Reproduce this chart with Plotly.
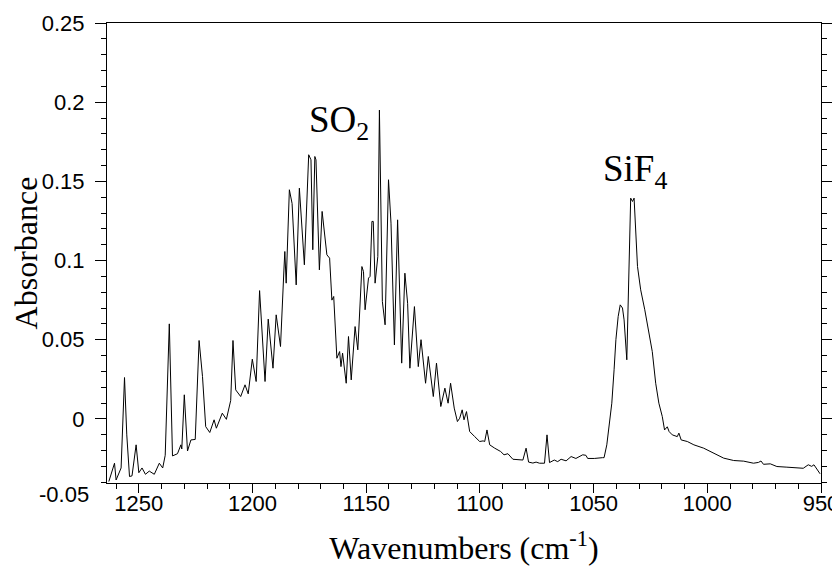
import plotly.graph_objects as go

# Spectrum (wavenumber in cm-1, absorbance)
wavenumber = [
    1263.2, 1260.7, 1260.0, 1257.8, 1256.3, 1255.3, 1254.1, 1253.0, 1251.2, 1250.0,
    1248.6, 1247.1, 1245.4, 1243.2, 1241.0, 1239.5, 1238.4, 1236.6, 1235.2, 1233.0,
    1231.5, 1231.1, 1230.0, 1228.6, 1227.1, 1225.2, 1223.5, 1222.0, 1220.6, 1218.8,
    1216.9, 1215.9, 1213.3, 1211.5, 1209.6, 1208.6, 1207.4, 1205.2, 1203.3, 1201.9,
    1200.1, 1198.4, 1196.9, 1194.5, 1193.1, 1191.0, 1189.6, 1187.7, 1186.2, 1185.8,
    1185.2, 1183.8, 1182.6, 1180.8, 1179.4, 1177.2, 1175.3, 1174.3, 1173.5, 1172.6,
    1172.1, 1170.6, 1169.4, 1168.0, 1167.3, 1166.1, 1165.1, 1164.3, 1162.9, 1161.7,
    1161.1, 1160.4, 1158.8, 1157.8, 1156.6, 1154.9, 1153.7, 1151.9, 1151.2, 1150.5,
    1149.0, 1148.3, 1147.5, 1146.9, 1146.1, 1144.9, 1144.2, 1142.9, 1141.7, 1140.2,
    1139.1, 1137.6, 1136.2, 1134.4, 1133.0, 1131.8, 1130.8, 1128.8, 1127.1, 1125.9,
    1123.9, 1122.7, 1120.5, 1119.1, 1117.2, 1115.4, 1114.0, 1112.9, 1111.3, 1109.9,
    1108.9, 1107.8, 1107.0, 1105.9, 1104.5, 1102.3, 1100.1, 1098.6, 1097.9, 1096.9,
    1095.7, 1093.5, 1090.9, 1089.4, 1087.7, 1085.5, 1081.1, 1079.7, 1078.6, 1076.7,
    1075.3, 1073.8, 1071.6, 1070.5, 1069.4, 1067.3, 1065.8, 1064.3, 1062.1, 1059.9,
    1057.8, 1054.8, 1053.4, 1052.6, 1049.7, 1046.1, 1045.4, 1044.2, 1043.2, 1042.0,
    1041.0, 1040.2, 1039.2, 1038.3, 1037.3, 1036.6, 1035.4, 1034.4, 1033.7, 1032.9,
    1032.2, 1030.7, 1029.3, 1027.5, 1025.6, 1024.2, 1022.7, 1021.3, 1019.8, 1018.8,
    1017.6, 1016.8, 1015.4, 1013.2, 1012.5, 1011.5, 1008.8, 1005.9, 1001.6, 997.2,
    992.8, 988.4, 984.0, 979.7, 977.5, 976.4, 975.3, 972.3, 969.4, 965.0,
    960.6, 957.8, 955.6, 954.1, 953.1, 951.9, 950.4,
]
absorbance = [
    -0.0396, -0.0280, -0.0386, -0.0310, 0.0261, -0.0101, -0.0364, -0.0360, -0.0164, -0.0340,
    -0.0310, -0.0350, -0.0330, -0.0350, -0.0280, -0.0310, -0.0230, 0.0600, -0.0234, -0.0220,
    -0.0164, -0.0190, 0.0152, -0.0203, -0.0133, -0.0130, 0.0495, 0.0267, -0.0049, -0.0086,
    -0.0006, -0.0059, 0.0036, -0.0003, 0.0116, 0.0495, 0.0183, 0.0141, 0.0215, 0.0158,
    0.0377, 0.0236, 0.0810, 0.0236, 0.0630, 0.0320, 0.0657, 0.0457, 0.0940, 0.1057,
    0.0857, 0.1447, 0.1360, 0.0846, 0.1457, 0.0973, 0.1668, 0.1636, 0.1068, 0.1657,
    0.1636, 0.0941, 0.1310, 0.1131, 0.1036, 0.1015, 0.0750, 0.0773, 0.0383, 0.0425,
    0.0330, 0.0415, 0.0225, 0.0520, 0.0246, 0.0583, 0.0436, 0.0962, 0.0930, 0.0689,
    0.0889, 0.0900, 0.1247, 0.1247, 0.0857, 0.1025, 0.1950, 0.0741, 0.0594, 0.1510,
    0.1236, 0.0467, 0.1257, 0.0352, 0.0920, 0.0730, 0.0320, 0.0709, 0.0330, 0.0500,
    0.0225, 0.0394, 0.0141, 0.0352, 0.0078, 0.0194, 0.0099, 0.0225, 0.0068, -0.0017,
    0.0004, 0.0057, -0.0006, 0.0046, -0.0080, -0.0112, -0.0143, -0.0139, -0.0143, -0.0070,
    -0.0164, -0.0185, -0.0206, -0.0227, -0.0220, -0.0255, -0.0260, -0.0185, -0.0273, -0.0279,
    -0.0273, -0.0280, -0.0280, -0.0101, -0.0276, -0.0260, -0.0270, -0.0255, -0.0265, -0.0238,
    -0.0250, -0.0227, -0.0230, -0.0250, -0.0250, -0.0245, -0.0245, -0.0164, -0.0027, 0.0099,
    0.0310, 0.0500, 0.0646, 0.0720, 0.0700, 0.0625, 0.0373, 0.0940, 0.1394, 0.1373,
    0.1394, 0.0962, 0.0815, 0.0689, 0.0541, 0.0425, 0.0225, 0.0099, 0.0015, -0.0070,
    -0.0050, -0.0080, -0.0101, -0.0112, -0.0090, -0.0133, -0.0143, -0.0164, -0.0185, -0.0217,
    -0.0248, -0.0263, -0.0267, -0.0280, -0.0275, -0.0266, -0.0287, -0.0284, -0.0301, -0.0305,
    -0.0312, -0.0312, -0.0290, -0.0300, -0.0290, -0.0312, -0.0347,
]

x_tick_vals = [1250, 1200, 1150, 1100, 1050, 1000, 950]
y_tick_vals = [0, 0.05, 0.1, 0.15, 0.2, 0.25]
y_tick_text = ["0", "0.05", "0.1", "0.15", "0.2", "0.25"]
x_range = [1264, 950]
y_range = [-0.0405, 0.25]
bottom_label = "-0.05"

peak_labels = ["SO<sub>2</sub>", "SiF<sub>4</sub>"]
peak_label_x = [1162.0, 1032.0]
peak_label_y = [0.187, 0.156]

fig = go.Figure()
fig.add_trace(go.Scatter(
    x=wavenumber, y=absorbance, mode="lines",
    line=dict(color="black", width=1), showlegend=False, hoverinfo="skip",
))

serif = "Liberation Serif, Times New Roman, serif"
sans = "Liberation Sans, Arial, Helvetica, sans-serif"

for txt, xx, yy in zip(peak_labels, peak_label_x, peak_label_y):
    fig.add_annotation(x=xx, y=yy, xref="x", yref="y", text=txt, showarrow=False,
                       font=dict(family=serif, size=37, color="black"))

# "-0.05" sits just under the bottom-left corner of the frame
fig.add_annotation(x=0, y=-0.026, xref="paper", yref="paper", text=bottom_label,
                   showarrow=False, xanchor="right", yanchor="middle", xshift=-16,
                   font=dict(family=sans, size=22, color="black"))

# the page adds an 8 px body margin, so the figure is 8 px smaller each way
fig.update_layout(
    width=832, height=561,
    margin=dict(l=99, r=19, t=15, b=86, autoexpand=False),
    paper_bgcolor="white", plot_bgcolor="white",
    font=dict(family=sans, size=22, color="black"),
    xaxis=dict(
        range=x_range, tickvals=x_tick_vals, ticks="outside", ticklen=9,
        tickwidth=1, tickcolor="black", showline=True, linecolor="black",
        linewidth=1, mirror=True, showgrid=False, zeroline=False,
        automargin=False, ticklabelstandoff=-8,
        tickfont=dict(family=sans, size=22),
        minor=dict(dtick=10, tick0=950, ticks="outside", ticklen=5,
                   tickcolor="black", showgrid=False),
        title=dict(text="Wavenumbers (cm<sup>-1</sup>)",
                   font=dict(family=serif, size=32), standoff=21),
    ),
    yaxis=dict(
        range=y_range, tickvals=y_tick_vals, ticktext=y_tick_text,
        ticks="outside", ticklen=11, tickwidth=1, tickcolor="black",
        showline=True, linecolor="black", linewidth=1, mirror="ticks",
        showgrid=False, zeroline=False, automargin=False,
        ticklabelstandoff=6,
        tickfont=dict(family=sans, size=22),
        minor=dict(dtick=0.01, tick0=0, ticks="outside", ticklen=5,
                   tickcolor="black", showgrid=False),
        title=dict(text="Absorbance", font=dict(family=serif, size=32),
                   standoff=12),
    ),
)

fig.write_html("out.html")
